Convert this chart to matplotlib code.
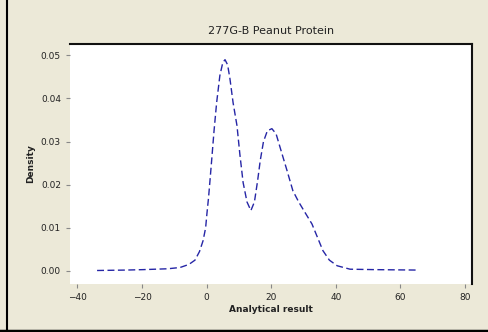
import matplotlib
matplotlib.use("Agg")
import matplotlib.pyplot as plt
from matplotlib.lines import Line2D

# density curve
x_vals = [-33.9, -25, -19.7, -12, -8.2, -5.5, -3.6, -2.2, -1.1, -0.3, 0.1, 0.6, 1.05,
          1.6, 2.3, 3.1, 4.1, 5.0, 5.7, 6.5, 7.2, 8.2, 9.4, 10.3, 11.3, 12.5, 13.7,
          14.8, 15.8, 16.6, 17.6, 18.8, 20.2, 21.5, 23.0, 24.8, 26.7, 28.5, 30.5,
          32.6, 34.3, 36.0, 38.0, 40.4, 44.4, 52, 65.1]
density = [0.0001, 0.0002, 0.0003, 0.0005, 0.0008, 0.0015, 0.0025, 0.0045, 0.007, 0.010,
           0.0133, 0.017, 0.021, 0.026, 0.0325, 0.039, 0.0453, 0.0483, 0.049, 0.0478,
           0.0447, 0.039, 0.0337, 0.027, 0.0205, 0.016, 0.014, 0.016, 0.021, 0.0256,
           0.030, 0.0325, 0.033, 0.0318, 0.028, 0.0235, 0.0186, 0.016, 0.0135, 0.0109,
           0.0078, 0.0047, 0.0025, 0.0012, 0.0004, 0.0003, 0.0002]

x_ticks = [-40, -20, 0, 20, 40, 60, 80]
y_ticks = [0.00, 0.01, 0.02, 0.03, 0.04, 0.05]
y_labels = ["0.00", "0.01", "0.02", "0.03", "0.04", "0.05"]

bg = "#ECE9D8"
fig = plt.figure(figsize=(4.89, 3.32), dpi=100, facecolor=bg)
ax = fig.add_axes([0.143, 0.145, 0.822, 0.722])
ax.set_facecolor("white")

ax.plot(x_vals, density, color="#2626A6", lw=1.0, linestyle=(0, (5, 2.5)))

ax.set_xlim(-42.3, 82.1)
ax.set_ylim(-0.003, 0.0526)
ax.set_xticks(x_ticks)
ax.set_yticks(y_ticks)
ax.set_yticklabels(y_labels)
ax.tick_params(labelsize=6.5, length=3, color="#888888", labelcolor="#222222")

for s in ["left", "bottom"]:
    ax.spines[s].set_visible(False)
for s in ["top", "right"]:
    ax.spines[s].set_linewidth(1.5)
    ax.spines[s].set_color("#111111")

ax.set_title("277G-B Peanut Protein", fontsize=8, pad=7, color="#222222")
ax.set_xlabel("Analytical result", fontsize=6.5, fontweight="bold", labelpad=2, color="#222222")
ax.set_ylabel("Density", fontsize=6.5, fontweight="bold", labelpad=4, color="#222222")

# screenshot border on left and bottom
fig.add_artist(Line2D([7 / 489, 7 / 489], [0, 1], color="black", lw=1.5))
fig.add_artist(Line2D([0, 1], [1.5 / 332, 1.5 / 332], color="black", lw=2.5))

fig.savefig("out.png", dpi=100, facecolor=bg)
